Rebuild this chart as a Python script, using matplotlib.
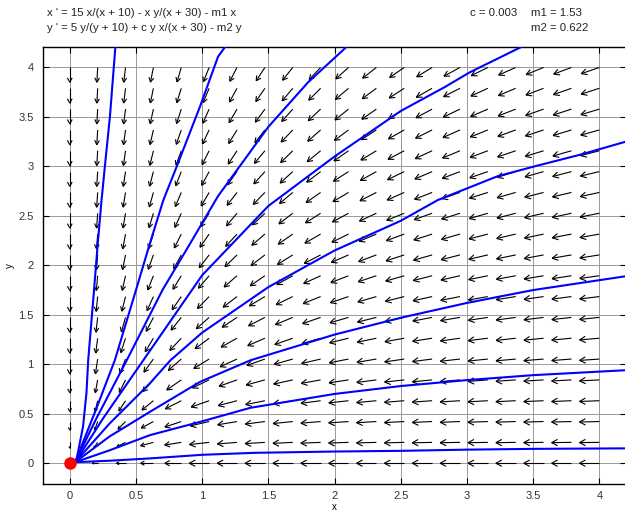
import numpy as np
import matplotlib
matplotlib.use("Agg")
import matplotlib.pyplot as plt
from matplotlib.collections import LineCollection

plt.rcParams['font.family'] = ['Liberation Sans', 'DejaVu Sans']

# model parameters (shown on the chart)
c = 0.003
m1 = 1.53
m2 = 0.622

# direction field sample points
field_x = np.linspace(0, 4, 20)
field_y = np.linspace(0, 4, 20)

# solution curves
traj1_x = [0.04, 0.05, 0.10, 0.126, 0.139, 0.18, 0.21, 0.24, 0.265, 0.303, 0.345]
traj1_y = [0.01, 0.03, 0.37, 0.71, 1.04, 1.70, 2.20, 2.66, 3.00, 3.50, 4.22]
traj2_x = [0.04, 0.2, 0.34, 0.5, 0.6, 0.707, 0.808, 0.985, 1.12, 1.18]
traj2_y = [0.01, 0.55, 1.04, 1.75, 2.2, 2.66, 3.0, 3.61, 4.11, 4.22]
traj3_x = [0.04, 0.2, 0.43, 0.7, 0.9, 1.12, 1.5, 1.8, 2.1]
traj3_y = [0.01, 0.45, 1.04, 1.75, 2.2, 2.7, 3.4, 3.85, 4.22]
traj4_x = [0.04, 0.25, 0.555, 1.0, 1.5, 2.0, 2.5, 2.83, 3.02, 3.43]
traj4_y = [0.01, 0.45, 1.04, 1.9, 2.6, 3.1, 3.56, 3.8, 3.95, 4.22]
traj5_x = [0.04, 0.3, 0.6, 0.76, 1.0, 1.5, 2.0, 2.5, 2.78, 3.23, 3.51, 3.86, 4.2]
traj5_y = [0.01, 0.4, 0.8, 1.04, 1.32, 1.78, 2.15, 2.45, 2.66, 2.9, 3.0, 3.12, 3.25]
traj6_x = [0.04, 0.3, 0.606, 0.985, 1.364, 2.0, 2.5, 3.0, 3.5, 4.2]
traj6_y = [0.01, 0.27, 0.52, 0.823, 1.04, 1.3, 1.47, 1.62, 1.75, 1.89]
traj7_x = [0.04, 0.3, 0.606, 0.985, 1.364, 2.0, 2.5, 3.0, 3.5, 4.2]
traj7_y = [0.01, 0.13, 0.284, 0.418, 0.56, 0.70, 0.78, 0.84, 0.89, 0.94]
traj8_x = [0.04, 0.3, 0.6, 1.0, 1.4, 2.0, 2.5, 3.0, 3.5, 4.2]
traj8_y = [0.01, 0.025, 0.048, 0.085, 0.105, 0.118, 0.125, 0.137, 0.145, 0.15]

trajectories = [(traj1_x, traj1_y), (traj2_x, traj2_y), (traj3_x, traj3_y),
                (traj4_x, traj4_y), (traj5_x, traj5_y), (traj6_x, traj6_y),
                (traj7_x, traj7_y), (traj8_x, traj8_y)]

xmin, xmax = -0.2, 4.2
ymin, ymax = -0.215, 4.21

fig = plt.figure(figsize=(6.25, 5.13), dpi=100)
ax = fig.add_axes([0.0693, 0.0556, 0.932, 0.8534])
ax.set_xlim(xmin, xmax)
ax.set_ylim(ymin, ymax)

# pixels per data unit, used to shape arrow heads
bbox = ax.get_window_extent()
kx = bbox.width / (xmax - xmin)
ky = bbox.height / (ymax - ymin)

X, Y = np.meshgrid(field_x, field_y)
U = 15 * X / (X + 10) - X * Y / (X + 30) - m1 * X
V = 5 * Y / (Y + 10) + c * Y * X / (X + 30) - m2 * Y
mag = np.hypot(U, V)
scale = np.minimum(1.0, np.sqrt(mag / 0.18))
L = 0.15 * scale
n = np.where(mag == 0, 1, mag)
DU = L * U / n
DV = L * V / n

segs = []
for x0, y0, du, dv in zip(X.ravel(), Y.ravel(), DU.ravel(), DV.ravel()):
    if du == 0 and dv == 0:
        continue
    x1, y1 = x0 + du, y0 + dv
    px, py = du * kx, dv * ky
    plen = np.hypot(px, py)
    ang = np.arctan2(py, px)
    h = 0.34 * plen
    segs.append([(x0, y0), (x1, y1)])
    for s in (1, -1):
        a = ang + np.pi + s * np.radians(28)
        segs.append([(x1, y1), (x1 + h * np.cos(a) / kx, y1 + h * np.sin(a) / ky)])

ax.add_collection(LineCollection(segs, colors='black', linewidths=0.8, zorder=2))

for tx, ty in trajectories:
    ax.plot(tx, ty, color='blue', lw=1.5, zorder=3, clip_on=True)

ax.plot([0], [0], 'o', color='red', markersize=8, zorder=4)

ticks = np.arange(0, 4.01, 0.5)
ax.set_xticks(ticks)
ax.set_yticks(ticks)
ax.set_xticklabels(['0', '0.5', '1', '1.5', '2', '2.5', '3', '3.5', '4'])
ax.set_yticklabels(['0', '0.5', '1', '1.5', '2', '2.5', '3', '3.5', '4'])
ax.grid(True, color='#999999', lw=0.7, zorder=1)
ax.set_axisbelow(True)
ax.tick_params(direction='in', length=4, top=True, right=True, labelsize=8,
               labelcolor='#333333', width=0.8)
ax.tick_params(axis='x', pad=5)
ax.tick_params(axis='y', pad=7)
for sp in ax.spines.values():
    sp.set_linewidth(1.0)

ax.set_xlabel('x', fontsize=7)
ax.set_ylabel('y', fontsize=7)
ax.xaxis.set_label_coords(0.5, -0.0505)
ax.yaxis.set_label_coords(-0.058, 0.5)
ax.xaxis.label.set_va('center')
ax.yaxis.label.set_va('center')

tcol = '#222222'
fig.text(47 / 625, 1 - 13 / 513, "x ' = 15 x/(x + 10) - x y/(x + 30) - m1 x",
         fontsize=8.2, va='center', color=tcol)
fig.text(47 / 625, 1 - 28 / 513, "y ' = 5 y/(y + 10) + c y x/(x + 30) - m2 y",
         fontsize=8.2, va='center', color=tcol)
fig.text(470 / 625, 1 - 13 / 513, "c = 0.003", fontsize=8.2, va='center', color=tcol)
fig.text(531 / 625, 1 - 13 / 513, "m1 = 1.53", fontsize=8.2, va='center', color=tcol)
fig.text(531 / 625, 1 - 28 / 513, "m2 = 0.622", fontsize=8.2, va='center', color=tcol)

fig.savefig('out.png', dpi=100)
